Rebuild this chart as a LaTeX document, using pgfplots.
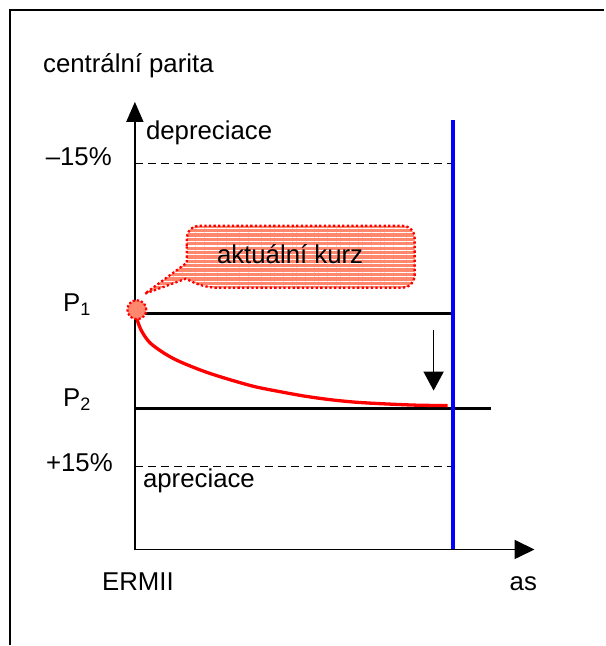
\documentclass[border=0pt]{standalone}
\usepackage{pgfplots}
\pgfplotsset{compat=1.18}
\usepackage{fontspec}
\setmainfont{Liberation Sans}
\usetikzlibrary{arrows.meta,patterns.meta}
\definecolor{salmon}{RGB}{255,135,110}
\definecolor{pblue}{RGB}{0,0,255}
\begin{document}
\begin{tikzpicture}[font=\fontsize{25.8}{30}\selectfont]
\begin{axis}[
  scale only axis, width=605pt, height=646pt,
  xmin=0, xmax=605, ymin=0, ymax=646,
  hide axis, clip=false,
]
% frame (left and top edges)
\addplot[black, line width=1.2pt] coordinates {(10,0) (10,636) (605,636)};
% dashed band limits
\addplot[black, line width=1.3pt, dash pattern=on 8pt off 5pt] coordinates {(135,482) (453,482)};
\addplot[black, line width=1.3pt, dash pattern=on 8pt off 5pt] coordinates {(135,179) (453,179)};
% central parities
\addplot[black, line width=2.6pt] coordinates {(135,332) (453,332)};
\addplot[black, line width=2.6pt] coordinates {(135,237) (491,237)};
% blue vertical
\addplot[pblue, line width=4pt] coordinates {(453,96) (453,526)};
% red curve
\addplot[red, line width=3.3pt, smooth, tension=0.5] coordinates {
 (136,330) (141,316) (150,303) (165,292) (180,284) (205,274) (230,266) (255,259) (280,254) (305,249.5) (330,246) (355,243.5) (380,242) (415,240.5) (448,240)};
% axes
\addplot[black, line width=1.7pt, -{Triangle[length=20pt,width=17pt]}] coordinates {(135,96) (135,544)};
\addplot[black, line width=1.7pt, -{Triangle[length=20pt,width=19pt]}] coordinates {(134,96) (535,96)};
% down arrow
\addplot[black, line width=1.7pt, -{Triangle[length=19pt,width=20pt]}] coordinates {(434,316) (434,255)};
% callout
\draw[red, line width=2.3pt, dash pattern=on 2.3pt off 2.3pt, rounded corners=12pt,
  preaction={fill=salmon},
  preaction={pattern={Lines[angle=0,distance=4.4pt,line width=1.1pt]}, pattern color=white}]
  (axis cs:187,400) -- (axis cs:187,420) -- (axis cs:415,420) -- (axis cs:415,358) -- (axis cs:205,358)
  [sharp corners] -- (axis cs:186,367) -- (axis cs:145,352) -- (axis cs:187,383) -- cycle;
% point P1
\addplot[only marks, mark=*, mark size=9.5pt, mark options={fill=salmon, draw=red, line width=2.2pt, dash pattern=on 2.2pt off 2pt}] coordinates {(137,336)};
% texts
\node[anchor=base west, inner sep=0] at (axis cs:43,573) {centrální parita};
\node[anchor=base west, inner sep=0] at (axis cs:146,506) {depreciace};
\node[anchor=base east, inner sep=0] at (axis cs:112,480) {–15\%};
\node[anchor=base east, inner sep=0] at (axis cs:113,174) {+15\%};
\node[anchor=base west, inner sep=0] at (axis cs:143,158) {apreciace};
\node[anchor=base west, inner sep=0] at (axis cs:102,55) {ERMII};
\node[anchor=base west, inner sep=0] at (axis cs:510,55) {as};
\node[anchor=base west, inner sep=0] at (axis cs:217,382) {aktuální kurz};
\node[anchor=base west, inner sep=0] at (axis cs:63,334) {P\textsubscript{1}};
\node[anchor=base west, inner sep=0] at (axis cs:63,239) {P\textsubscript{2}};
\path (axis cs:0,0) rectangle (axis cs:605,646);
\end{axis}
\end{tikzpicture}
\end{document}
